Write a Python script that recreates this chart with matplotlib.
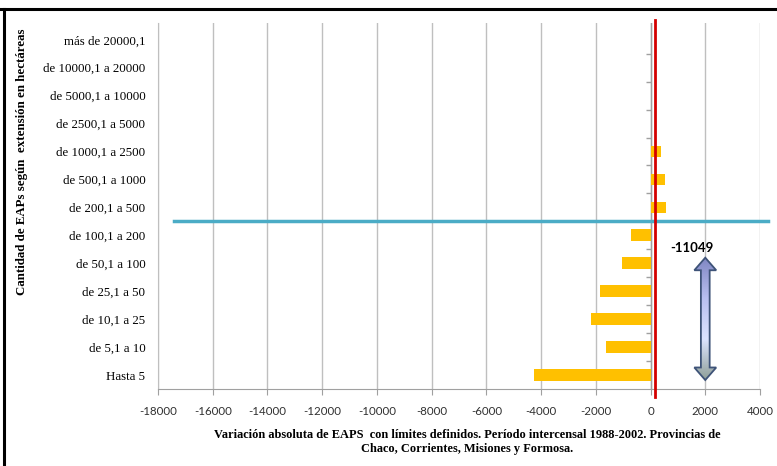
import numpy as np
import matplotlib
matplotlib.use('Agg')
import matplotlib.pyplot as plt
from matplotlib.patches import Polygon
from matplotlib.lines import Line2D
from matplotlib.colors import LinearSegmentedColormap

# Data (bottom to top)
categories = ['Hasta 5', 'de 5,1 a 10', 'de 10,1 a 25', 'de 25,1 a 50',
              'de 50,1 a 100', 'de 100,1 a 200', 'de 200,1 a 500',
              'de 500,1 a 1000', 'de 1000,1 a 2500', 'de 2500,1 a 5000',
              'de 5000,1 a 10000', 'de 10000,1 a 20000', 'más de 20000,1']
values = [-4250, -1620, -2190, -1860, -1040, -710, 580, 535, 365, 0, 0, 0, 0]
x_ticks = list(range(-18000, 4001, 2000))
total_label = '-11049'

fig = plt.figure(figsize=(7.77, 4.66), dpi=100)
ax = fig.add_axes([158 / 777, 1 - 389 / 466, (760 - 158) / 777, (389 - 23) / 466])

y = np.arange(len(categories))
ax.barh(y, values, height=0.42, color='#FFC000', zorder=3)

ax.set_xlim(-18000, 4000)
ax.set_ylim(-0.5, 12.6)
ax.set_xticks(x_ticks)
ax.set_xticklabels([str(t) for t in x_ticks], family='Lato', fontsize=8.3, color='#303030')
ax.set_yticks(y)
ax.set_yticklabels(categories, family='Liberation Serif', fontsize=9.3)
ax.tick_params(axis='y', length=0, pad=9)
ax.tick_params(axis='x', length=4, color='#A0A0A0', pad=8)

ax.grid(axis='x', color='#BFBFBF', lw=1, zorder=0)
for s in ['top', 'right']:
    ax.spines[s].set_visible(False)
ax.spines['left'].set_color('#BFBFBF')
ax.spines['bottom'].set_color('#A0A0A0')

# category-boundary ticks on the zero axis
ax.hlines(y[:-1] + 0.5, -150, 0, color='#A0A0A0', lw=1, zorder=2)
ax.axvline(0, color='#A0A0A0', lw=1, zorder=2)

# red reference line and blue separator
ax.axvline(150, ymin=-0.022, ymax=1.008, color='#D40000', lw=2, clip_on=False, zorder=5)
ax.plot([-17400, 4300], [5.5, 5.5], color='#4BACC6', lw=2.5, clip_on=False, zorder=4)

# double arrow with gradient fill
ax_x, top, bot = 2000, 4.2, -0.18
sw, hw, hl = 160, 400, 0.45
pts = [(ax_x, top), (ax_x + hw, top - hl), (ax_x + sw, top - hl), (ax_x + sw, bot + hl),
       (ax_x + hw, bot + hl), (ax_x, bot), (ax_x - hw, bot + hl), (ax_x - sw, bot + hl),
       (ax_x - sw, top - hl), (ax_x - hw, top - hl)]
arrow = Polygon(pts, closed=True, facecolor='none', edgecolor='#3E5378', lw=1.3, zorder=7)
ax.add_patch(arrow)
cmap = LinearSegmentedColormap.from_list('arr', ['#8F9F98', '#DCE3FF', '#B8BFF0', '#7F86C2'])
grad = np.linspace(0, 1, 256).reshape(-1, 1)
im = ax.imshow(grad, cmap=cmap, origin='lower', aspect='auto',
               extent=[ax_x - hw, ax_x + hw, bot, top], zorder=6)
im.set_clip_path(arrow)
ax.set_xlim(-18000, 4000)
ax.set_ylim(-0.5, 12.6)
ax.text(1500, 4.55, total_label, family='Lato', fontweight='bold', fontsize=9.5,
        ha='center', va='center', zorder=8)

fig.text(22 / 777, 1 - 162 / 466, 'Cantidad de EAPs según  extensión en hectáreas',
         rotation=90, family='Liberation Serif', fontweight='bold', fontsize=9.3,
         ha='center', va='center')
fig.text(467 / 777, 1 - 442 / 466,
         'Variación absoluta de EAPS  con límites definidos. Período intercensal 1988-2002. Provincias de\n'
         'Chaco, Corrientes, Misiones y Formosa.',
         family='Liberation Serif', fontweight='bold', fontsize=8.9, ha='center', va='center',
         linespacing=1.25)

# outer frame (top and left)
fig.add_artist(Line2D([0, 1], [1 - 9 / 466, 1 - 9 / 466], color='black', lw=2.2))
fig.add_artist(Line2D([4 / 777, 4 / 777], [0, 1 - 9 / 466], color='black', lw=2.2))

fig.savefig('out.png', dpi=100)
